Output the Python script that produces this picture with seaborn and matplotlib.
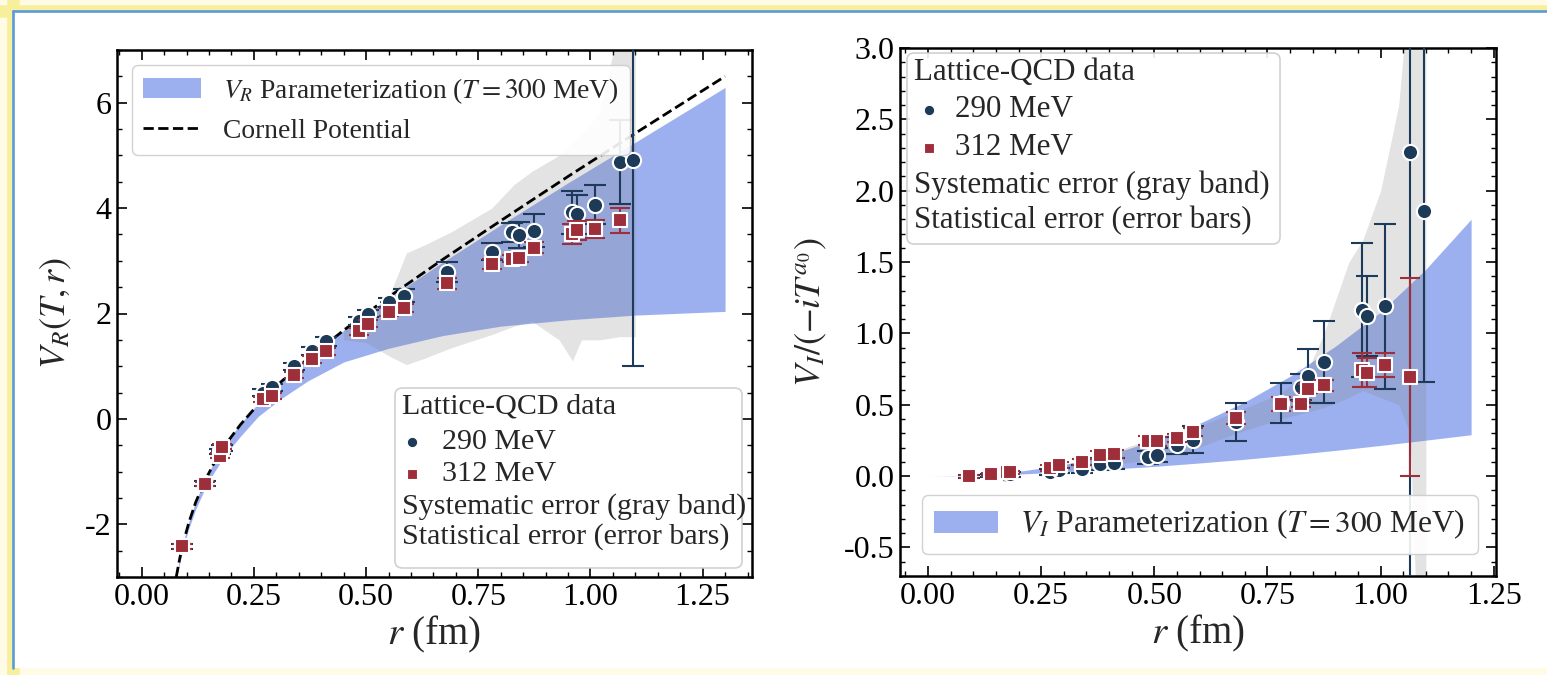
import matplotlib
matplotlib.use("Agg")
import matplotlib.pyplot as plt
import seaborn as sns
from matplotlib.patches import Patch, FancyBboxPatch, Rectangle
from matplotlib.lines import Line2D
from matplotlib.ticker import MultipleLocator, FormatStrFormatter

# ---------------- data ----------------
# lattice separations (fm)
r_290 = [0.09, 0.14, 0.175, 0.18, 0.27, 0.29, 0.34, 0.38, 0.41, 0.485, 0.505, 0.55,
         0.585, 0.68, 0.78, 0.825, 0.84, 0.875, 0.96, 0.97, 1.01, 1.065, 1.095]
r_312 = [0.09, 0.14, 0.175, 0.18, 0.27, 0.29, 0.34, 0.38, 0.41, 0.485, 0.505, 0.55,
         0.585, 0.68, 0.78, 0.825, 0.84, 0.875, 0.96, 0.97, 1.01, 1.065]

# real part V_R(T, r)
vr_290 = [-2.42, -1.22, -0.62, -0.55, 0.50, 0.60, 1.00, 1.29, 1.47, 1.86, 2.00, 2.21,
          2.34, 2.78, 3.17, 3.54, 3.49, 3.57, 3.92, 3.88, 4.06, 4.88, 4.91]
vr_err_290 = [0.04, 0.05, 0.05, 0.05, 0.06, 0.07, 0.07, 0.08, 0.08, 0.07, 0.07, 0.08,
              0.13, 0.19, 0.16, 0.18, 0.25, 0.31, 0.41, 0.37, 0.37, 0.80, 3.90]
vr_312 = [-2.42, -1.23, -0.70, -0.53, 0.37, 0.44, 0.83, 1.13, 1.28, 1.66, 1.81, 2.03,
          2.10, 2.57, 2.94, 3.04, 3.06, 3.25, 3.51, 3.58, 3.60, 3.77]
vr_err_312 = [0.04, 0.04, 0.05, 0.05, 0.05, 0.06, 0.06, 0.06, 0.07, 0.07, 0.07, 0.08,
              0.08, 0.11, 0.10, 0.07, 0.09, 0.10, 0.19, 0.18, 0.17, 0.24]

# imaginary part V_I / (-i T^a0)
vi_290 = [0.0, 0.005, 0.01, 0.012, 0.03, 0.04, 0.05, 0.085, 0.09, 0.133, 0.15, 0.215,
          0.255, 0.38, 0.51, 0.625, 0.70, 0.80, 1.163, 1.12, 1.19, 2.27, 1.86]
vi_err_290 = [0.01, 0.01, 0.015, 0.015, 0.02, 0.02, 0.03, 0.04, 0.04, 0.045, 0.05, 0.06,
              0.095, 0.135, 0.14, 0.09, 0.19, 0.29, 0.47, 0.28, 0.58, 3.2, 1.2]
vi_312 = [0.0, 0.013, 0.026, 0.026, 0.057, 0.078, 0.10, 0.148, 0.156, 0.248, 0.243, 0.267,
          0.309, 0.407, 0.507, 0.503, 0.613, 0.636, 0.742, 0.725, 0.78, 0.695]
vi_err_312 = [0.01, 0.01, 0.01, 0.01, 0.02, 0.02, 0.02, 0.03, 0.03, 0.03, 0.03, 0.03,
              0.03, 0.04, 0.05, 0.02, 0.03, 0.04, 0.12, 0.10, 0.085, 0.695]

# Cornell potential and V_R parameterization band
cornell_r = [0.077, 0.085, 0.095, 0.105, 0.12, 0.14, 0.16, 0.19, 0.22, 0.26, 0.31,
             0.37, 0.45, 0.55, 0.67, 0.80, 0.95, 1.10, 1.30]
cornell_v = [-3.00, -2.64, -2.28, -1.97, -1.59, -1.19, -0.86, -0.45, -0.11, 0.28, 0.70,
             1.14, 1.68, 2.31, 3.02, 3.76, 4.60, 5.42, 6.50]
vr_band_lo = [-3.05, -2.72, -2.37, -2.08, -1.72, -1.34, -1.03, -0.64, -0.33, 0.05, 0.38,
              0.72, 1.08, 1.34, 1.58, 1.76, 1.88, 1.97, 2.04]
vr_band_hi = [-2.98, -2.62, -2.26, -1.95, -1.57, -1.17, -0.84, -0.43, -0.09, 0.30, 0.71,
              1.15, 1.68, 2.29, 2.97, 3.68, 4.48, 5.25, 6.29]

# V_I parameterization band
vi_band_r = [0.0, 0.1, 0.2, 0.3, 0.4, 0.5, 0.6, 0.7, 0.8, 0.9, 1.0, 1.1, 1.2]
vi_band_lo = [0.0, 0.005, 0.014, 0.03, 0.048, 0.068, 0.092, 0.118, 0.148, 0.18, 0.215,
              0.252, 0.29]
vi_band_hi = [0.0, 0.008, 0.033, 0.08, 0.15, 0.25, 0.37, 0.52, 0.70, 0.91, 1.15, 1.45,
              1.80]

# systematic-error bands
sys_vr_r = [0.45, 0.50, 0.55, 0.59, 0.63, 0.69, 0.78, 0.83, 0.87, 0.93, 0.96, 0.98,
            1.02, 1.065, 1.10]
sys_vr_lo = [1.50, 1.45, 1.20, 1.03, 1.15, 1.35, 1.60, 1.76, 1.85, 1.50, 1.10, 1.50,
             1.50, 1.56, 1.56]
sys_vr_hi = [1.75, 2.00, 2.30, 3.15, 3.30, 3.55, 4.00, 4.45, 4.70, 5.00, 5.25, 5.40,
             5.80, 7.50, 7.50]
sys_vi_r = [0.27, 0.34, 0.41, 0.50, 0.58, 0.68, 0.78, 0.84, 0.875, 0.93, 0.96, 1.00,
            1.04, 1.065, 1.08, 1.10]
sys_vi_lo = [0.03, 0.05, 0.08, 0.12, 0.18, 0.30, 0.40, 0.45, 0.48, 0.55, 0.60, 0.55,
             0.50, 0.30, -1.0, -1.0]
sys_vi_hi = [0.06, 0.11, 0.17, 0.27, 0.33, 0.45, 0.58, 0.75, 1.00, 1.50, 1.65, 2.00,
             2.60, 3.50, 3.50, 3.50]

# ---------------- style ----------------
sns.set_theme(style="ticks")
plt.rcParams.update({
    "font.family": ["Liberation Serif", "DejaVu Serif"],
    "mathtext.fontset": "stix",
    "axes.unicode_minus": False,
    "axes.edgecolor": "black",
    "axes.linewidth": 1.8,
    "xtick.color": "black",
    "ytick.color": "black",
})

NAVY = "#1d3a58"
RED = "#9e2f3a"
BAND = "royalblue"
BAND_ALPHA = 0.52
GRAY = "0.5"
GRAY_ALPHA = 0.22

W, H = 1547, 675
fig = plt.figure(figsize=(W / 100, H / 100), dpi=100, facecolor="#fffbe4")

# page frame: yellow glow, white sheet, blue rule on top and left
fx, fy_top, fy_bot = 12.5 / W, 1 - 10.5 / H, 7 / H
fig.add_artist(Line2D([fx, fx], [0, 1], color="#f8ef9c", lw=9, zorder=-4,
                      transform=fig.transFigure))
fig.add_artist(Line2D([0, 1], [fy_top, fy_top], color="#f8ef9c", lw=9, zorder=-4,
                      transform=fig.transFigure))
fig.add_artist(Rectangle((fx, fy_bot), 1, fy_top - fy_bot, facecolor="white",
                         edgecolor="none", zorder=-3, transform=fig.transFigure))
fig.add_artist(Line2D([fx, fx], [fy_bot, fy_top], color="#5b9bd5", lw=1.9, zorder=-2,
                      transform=fig.transFigure))
fig.add_artist(Line2D([fx, 1], [fy_top, fy_top], color="#5b9bd5", lw=1.9, zorder=-2,
                      transform=fig.transFigure))

ax1 = fig.add_axes([117 / W, 98 / H, 635 / W, 527 / H])
ax2 = fig.add_axes([900 / W, 99 / H, 596 / W, 528 / H])


def style_axis(ax, xmin_step, ymaj, ymin_step, yfmt):
    ax.xaxis.set_major_locator(MultipleLocator(0.25))
    ax.xaxis.set_minor_locator(MultipleLocator(xmin_step))
    ax.yaxis.set_major_locator(MultipleLocator(ymaj))
    ax.yaxis.set_minor_locator(MultipleLocator(ymin_step))
    ax.xaxis.set_major_formatter(FormatStrFormatter("%.2f"))
    ax.yaxis.set_major_formatter(FormatStrFormatter(yfmt))
    ax.tick_params(which="both", direction="in", top=True, right=True)
    ax.tick_params(which="major", length=7.5, width=1.2, labelsize=23, pad=4)
    ax.tick_params(which="minor", length=3.8, width=1.0)
    for s in ax.spines.values():
        s.set_linewidth(1.8)


def draw_points(ax, r_a, v_a, e_a, r_b, v_b, e_b):
    ax.errorbar(r_a, v_a, yerr=e_a, fmt="none", ecolor=NAVY, elinewidth=1.5,
                capsize=8, capthick=1.5, zorder=3)
    sns.scatterplot(x=r_a, y=v_a, ax=ax, marker="o", s=120, color=NAVY,
                    edgecolor="white", linewidth=1.5, zorder=4, legend=False)
    ax.errorbar(r_b, v_b, yerr=e_b, fmt="none", ecolor=RED, elinewidth=1.5,
                capsize=7, capthick=1.5, zorder=5)
    sns.scatterplot(x=r_b, y=v_b, ax=ax, marker="s", s=100, color=RED,
                    edgecolor="white", linewidth=1.5, zorder=6, legend=False)


def data_box(ax, box, rows, fs, tx, mx, mtx):
    x0, y0, x1, y1 = box
    ax.add_patch(FancyBboxPatch((x0, y0), x1 - x0, y1 - y0,
                                boxstyle="round,pad=0,rounding_size=0.012",
                                transform=ax.transAxes, facecolor="white",
                                edgecolor="0.8", lw=1.2, alpha=0.9, zorder=8,
                                mutation_aspect=1.1))
    for (label, marker, color, y) in rows:
        if marker is None:
            ax.text(tx, y, label, transform=ax.transAxes, fontsize=fs,
                    va="center", ha="left", zorder=9)
        else:
            ax.plot([mx], [y], marker=marker, color=color, ms=7.5 if marker == "o" else 7,
                    mec="white", mew=0.8, transform=ax.transAxes, zorder=9,
                    clip_on=False, ls="none")
            ax.text(mtx, y, label, transform=ax.transAxes, fontsize=fs,
                    va="center", ha="left", zorder=9)


# ---------------- left panel: real part ----------------
ax1.fill_between(cornell_r, vr_band_lo, vr_band_hi, color=BAND, alpha=BAND_ALPHA,
                 lw=0, zorder=1)
ax1.fill_between(sys_vr_r, sys_vr_lo, sys_vr_hi, color=GRAY, alpha=GRAY_ALPHA,
                 lw=0, zorder=2)
sns.lineplot(x=cornell_r, y=cornell_v, ax=ax1, color="black", lw=2.0,
             linestyle="--", sort=False, estimator=None, zorder=2.5)
draw_points(ax1, r_290, vr_290, vr_err_290, r_312, vr_312, vr_err_312)
style_axis(ax1, 0.05, 2, 0.5, "%d")
ax1.set_xlim(-0.055, 1.36)
ax1.set_ylim(-3, 7)
ax1.set_xlabel(r"$r$ (fm)", fontsize=28, labelpad=2)
ax1.set_ylabel(r"$V_R(T,r)$", fontsize=26, labelpad=8)

leg1 = ax1.legend(handles=[Patch(facecolor=BAND, alpha=BAND_ALPHA, edgecolor="none",
                                 label=r"$V_R$ Parameterization ($T=300$ MeV)"),
                           Line2D([], [], color="black", lw=2.0, ls="--",
                                  label="Cornell Potential")],
                  loc="upper left", fontsize=19.8, handlelength=2.1, handleheight=0.75,
                  labelspacing=0.45, borderpad=0.4, handletextpad=0.8,
                  borderaxespad=0.55, frameon=True, fancybox=True, edgecolor="0.8",
                  framealpha=0.9)
leg1.set_zorder(10)

data_box(ax1, (0.4378, 0.0171, 0.9843, 0.3586),
         [("Lattice-QCD data", None, None, 0.3226),
          ("290 MeV", "o", NAVY, 0.2562),
          ("312 MeV", "s", RED, 0.1954),
          ("Systematic error (gray band)", None, None, 0.1328),
          ("Statistical error (error bars)", None, None, 0.0759)],
         fs=21.6, tx=0.4488, mx=0.4646, mtx=0.5118)

# ---------------- right panel: imaginary part ----------------
ax2.fill_between(vi_band_r, vi_band_lo, vi_band_hi, color=BAND, alpha=BAND_ALPHA,
                 lw=0, zorder=1)
ax2.fill_between(sys_vi_r, sys_vi_lo, sys_vi_hi, color=GRAY, alpha=GRAY_ALPHA,
                 lw=0, zorder=2)
draw_points(ax2, r_290, vi_290, vi_err_290, r_312, vi_312, vi_err_312)
style_axis(ax2, 0.05, 0.5, 0.1, "%.1f")
ax2.set_xlim(-0.062, 1.255)
ax2.set_ylim(-0.7, 3.0)
ax2.set_xlabel(r"$r$ (fm)", fontsize=28, labelpad=2)
ax2.set_ylabel(r"$V_I/(-iT^{a_0})$", fontsize=26, labelpad=11)

leg2 = ax2.legend(handles=[Patch(facecolor=BAND, alpha=BAND_ALPHA, edgecolor="none",
                                 label=r"$V_I$ Parameterization ($T=300$ MeV)")],
                  loc="lower left", bbox_to_anchor=(0.0361, 0.0417), borderaxespad=0,
                  fontsize=22.6, handlelength=2.05, handleheight=0.7, borderpad=0.4,
                  handletextpad=0.7, frameon=True, fancybox=True, edgecolor="0.8",
                  framealpha=0.9)
leg2.set_zorder(10)

data_box(ax2, (0.0117, 0.6288, 0.6376, 0.9905),
         [("Lattice-QCD data", None, None, 0.9534),
          ("290 MeV", "o", NAVY, 0.8833),
          ("312 MeV", "s", RED, 0.8110),
          ("Systematic error (gray band)", None, None, 0.7409),
          ("Statistical error (error bars)", None, None, 0.6729)],
         fs=22.3, tx=0.0235, mx=0.0487, mtx=0.0918)

fig.savefig("out.png", dpi=100, facecolor=fig.get_facecolor())
